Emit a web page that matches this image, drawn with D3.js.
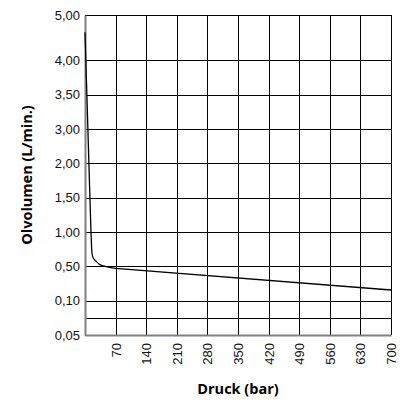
<!DOCTYPE html>
<html>
<head>
<meta charset="utf-8">
<script src="https://cdn.jsdelivr.net/npm/d3@7"></script>
<style>
  html, body { margin: 0; padding: 0; background: #fff; }
  svg { display: block; font-family: "Open Sans", "Noto Sans", sans-serif; }
</style>
</head>
<body>
<svg id="chart" width="403" height="400"></svg>
<script>
// Pressure (bar) against oil flow (L/min.)
const pressure = [0, 1.9, 4.3, 6.6, 8.9, 11.3, 13.7, 16, 19, 26.8, 34, 45.8, 70, 700];
const flow     = [4.62, 4.00, 3.50, 3.00, 2.00, 1.50, 1.00, 0.69, 0.62, 0.565, 0.525, 0.50, 0.476, 0.224];

// Axis ticks
const xTicks = [70, 140, 210, 280, 350, 420, 490, 560, 630, 700];
const yTicks = [0.05, 0.075, 0.10, 0.50, 1.00, 1.50, 2.00, 3.00, 3.50, 4.00, 5.00];
const yTickLabels = ["0,05", "", "0,10", "0,50", "1,00", "1,50", "2,00", "3,00", "3,50", "4,00", "5,00"];
// Grid slot of each y tick (the value axis is broken into uneven segments)
const ySlots = [0, 1, 2, 4, 6, 8, 10, 12, 14, 16, 18.64];

const xTitle = "Druck (bar)";
const yTitle = "Olvolumen (L/min.)";

const margin = { top: 15, right: 12, bottom: 65, left: 85 };
const width = 403 - margin.left - margin.right;
const height = 400 - margin.top - margin.bottom;

const svg = d3.select("#chart");
const g = svg.append("g").attr("transform", `translate(${margin.left},${margin.top})`);

const x = d3.scaleLinear().domain([0, 700]).range([0, width]);
const slotMax = ySlots[ySlots.length - 1];
const y = d3.scaleLinear()
  .domain(yTicks)
  .range(ySlots.map(s => height - s / slotMax * height));

// Grid
g.append("g")
  .selectAll("line.h")
  .data(yTicks)
  .join("line")
  .attr("x1", 0).attr("x2", width)
  .attr("y1", d => Math.round(y(d)) + 0.5)
  .attr("y2", d => Math.round(y(d)) + 0.5)
  .attr("stroke", "#000").attr("stroke-width", 1);

g.append("g")
  .selectAll("line.v")
  .data(xTicks)
  .join("line")
  .attr("x1", d => Math.round(x(d)) + 0.5)
  .attr("x2", d => Math.round(x(d)) + 0.5)
  .attr("y1", 0).attr("y2", height)
  .attr("stroke", "#000").attr("stroke-width", 1);

// Axes
const yAxis = d3.axisLeft(y)
  .tickValues(yTicks)
  .tickSize(0)
  .tickPadding(5)
  .tickFormat((d, i) => yTickLabels[i]);
const yAxisG = g.append("g").call(yAxis);
yAxisG.select(".domain").attr("stroke", "#808080").attr("stroke-width", 2);
yAxisG.selectAll("text").attr("font-size", 13).attr("fill", "#111");

const xAxis = d3.axisBottom(x)
  .tickValues(xTicks)
  .tickSize(0)
  .tickFormat(d => String(d));
const xAxisG = g.append("g").attr("transform", `translate(0,${height})`).call(xAxis);
xAxisG.select(".domain").attr("stroke", "#808080").attr("stroke-width", 2);
xAxisG.selectAll("text")
  .attr("font-size", 13).attr("fill", "#111")
  .attr("text-anchor", "end")
  .attr("transform", "rotate(-90)")
  .attr("x", -8).attr("y", 0).attr("dy", "0.35em");

// Flow curve: smooth knee at low pressure, straight run beyond 70 bar
const pts = pressure.map((p, i) => [x(p), y(flow[i])]);
const knee = d3.line().curve(d3.curveMonotoneX)(pts.slice(0, pts.length - 1));
const tail = pts[pts.length - 1];

g.append("path")
  .attr("fill", "none")
  .attr("stroke", "#000")
  .attr("stroke-width", 1.3)
  .attr("d", `${knee}L${tail[0]},${tail[1]}`);

// Titles
svg.append("text")
  .attr("x", margin.left + width / 2)
  .attr("y", 394)
  .attr("text-anchor", "middle")
  .attr("font-size", 14.5).attr("font-weight", "bold").attr("fill", "#000")
  .text(xTitle);

svg.append("text")
  .attr("transform", `translate(32,${margin.top + height / 2}) rotate(-90)`)
  .attr("text-anchor", "middle")
  .attr("font-size", 14.5).attr("font-weight", "bold").attr("fill", "#000")
  .text(yTitle);
</script>
</body>
</html>
